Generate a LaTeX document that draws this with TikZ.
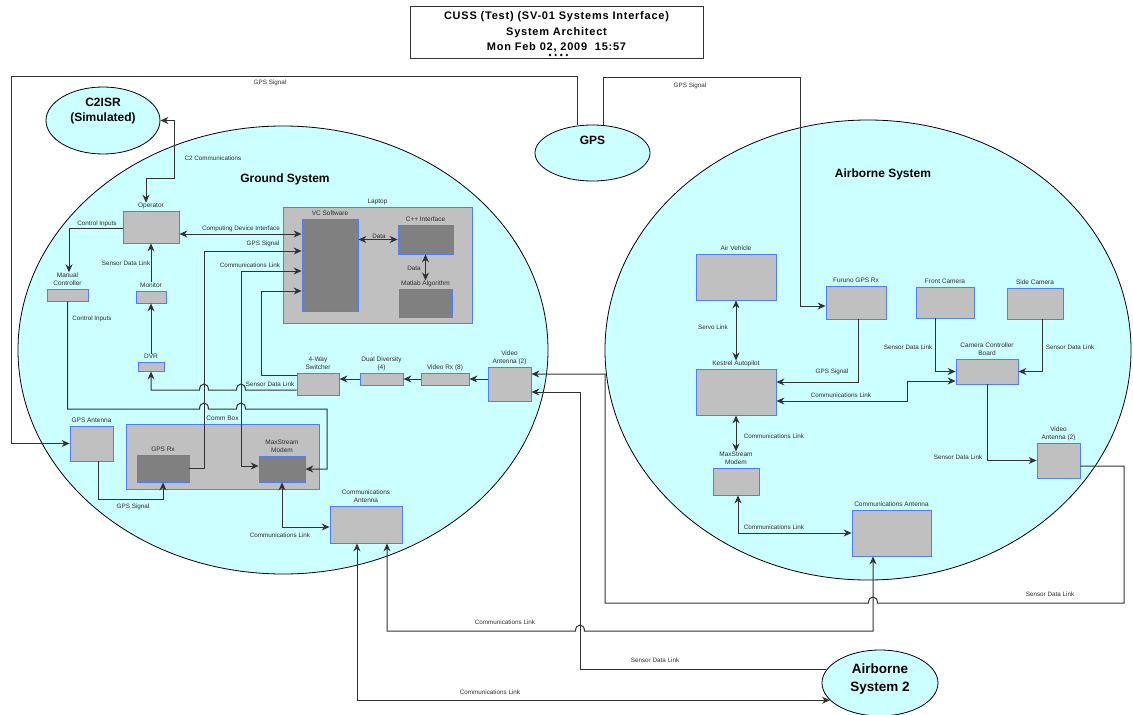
\documentclass[tikz,border=0pt]{standalone}
\usepackage{fontspec}
\setmainfont{Liberation Sans}
\newfontfamily\titlefont[LetterSpace=7]{Liberation Sans}
\usetikzlibrary{arrows.meta,positioning,shapes.geometric}
\definecolor{boxblue}{RGB}{80,125,250}
\definecolor{boxgray}{RGB}{192,192,192}
\definecolor{boxdark}{RGB}{128,128,128}
\definecolor{cyanfill}{RGB}{204,255,255}
\definecolor{linec}{RGB}{50,50,50}
\definecolor{textc}{RGB}{45,45,45}
\begin{document}
\begin{tikzpicture}[x=1pt,y=-1pt,
  gbox/.style={draw=boxblue, fill=boxgray, line width=0.8pt, inner sep=0pt, rectangle},
  dbox/.style={gbox, fill=boxdark},
  ell/.style={draw=black, fill=cyanfill, line width=0.8pt, ellipse, inner sep=0pt},
  lab/.style={font=\fontsize{6.5}{8.2}\selectfont, text=textc, inner sep=0.5pt, text depth=1.5pt, align=center},
  elab/.style={font=\fontsize{6.3}{8}\selectfont, text=textc, inner sep=0.5pt},
  big/.style={font=\fontsize{12}{15}\selectfont\bfseries, text=black, align=center, inner sep=0pt},
  conn/.style={draw=linec, line width=1pt},
  arr/.style={conn, -{Stealth[length=8pt,width=7pt,inset=2.6pt]}},
  darr/.style={conn, {Stealth[length=8pt,width=7pt,inset=2.6pt]}-{Stealth[length=8pt,width=7pt,inset=2.6pt]}},
]
\useasboundingbox (0,0) rectangle (1133,715);

% title
\node[draw=black!80, line width=0.8pt, minimum width=293pt, minimum height=52pt, inner sep=0pt, align=center,
  font=\titlefont\bfseries\fontsize{11}{15.5}\selectfont] (title) at (556.5,32)
  {CUSS (Test) (SV-01 Systems Interface)\\System Architect\\Mon Feb 02, 2009\ \ 15:57};
\foreach \i in {0,1,2,3} \fill[black] (550+5.6*\i,55) circle[radius=1.3pt];

% system ellipses
\node[ell, minimum width=530pt, minimum height=448pt] (ground) at (283,350) {};
\node[ell, minimum width=526pt, minimum height=460pt] (air) at (868,350) {};
\node[big] (gsT) at (285,179) {Ground System};
\node[big] (asT) at (883,174) {Airborne System};

% containers
\node[gbox, minimum width=189pt, minimum height=116pt] (laptop) at (377.5,265) {};
\node[lab, above=0.5pt of laptop] (laptopL) {Laptop};
\node[gbox, minimum width=193pt, minimum height=65pt] (cbox) at (222.5,456.5) {};
\node[lab, above=0.5pt of cbox] (cboxL) {Comm Box};

% ground boxes
\node[gbox, minimum width=56pt, minimum height=32pt] (op) at (151,227) {};
\node[lab, above=0.5pt of op] (opL) {Operator};
\node[gbox, minimum width=41pt, minimum height=12pt] (mc) at (67.5,295) {};
\node[lab, above=0.5pt of mc] (mcL) {Manual\\Controller};
\node[gbox, minimum width=30pt, minimum height=12pt] (mon) at (151,297) {};
\node[lab, above=0.5pt of mon] (monL) {Monitor};
\node[gbox, minimum width=26pt, minimum height=9pt] (dvr) at (151,366.5) {};
\node[lab, above=0.5pt of dvr] (dvrL) {DVR};
\node[dbox, minimum width=56pt, minimum height=92pt] (vc) at (330,265) {};
\node[lab, above=0.5pt of vc] (vcL) {VC Software};
\node[dbox, minimum width=55pt, minimum height=29pt] (cpp) at (425.5,239.5) {};
\node[lab, above=0.5pt of cpp] (cppL) {C++ Interface};
\node[dbox, minimum width=53pt, minimum height=28pt] (mat) at (425.5,303) {};
\node[lab, above=0.5pt of mat] (matL) {Matlab Algorithm};
\node[gbox, minimum width=42pt, minimum height=22pt] (sw4) at (318,384) {};
\node[lab, above=0.5pt of sw4] (sw4L) {4-Way\\Switcher};
\node[gbox, minimum width=43pt, minimum height=12pt] (dd) at (381.5,379) {};
\node[lab, above=0.5pt of dd] (ddL) {Dual Diversity\\(4)};
\node[gbox, minimum width=48pt, minimum height=12pt] (vrx) at (445,379) {};
\node[lab, above=0.5pt of vrx] (vrxL) {Video Rx (8)};
\node[gbox, minimum width=43pt, minimum height=34pt] (van) at (509.5,384) {};
\node[lab, above=0.5pt of van] (vanL) {Video\\Antenna (2)};
\node[gbox, minimum width=43pt, minimum height=35pt] (gant) at (91.5,443.5) {};
\node[lab, above=0.5pt of gant] (gantL) {GPS Antenna};
\node[dbox, minimum width=52pt, minimum height=27pt] (gpsrx) at (163,468.5) {};
\node[lab, above=0.5pt of gpsrx] (gpsrxL) {GPS Rx};
\node[dbox, minimum width=46pt, minimum height=26pt] (mod) at (282,469) {};
\node[lab, above=0.5pt of mod] (modL) {MaxStream\\Modem};
\node[gbox, minimum width=72pt, minimum height=37pt] (cant) at (366,524.5) {};
\node[lab, above=0.5pt of cant] (cantL) {Communications\\Antenna};

% airborne boxes
\node[gbox, minimum width=80pt, minimum height=46pt] (av) at (736,277) {};
\node[lab, above=0.5pt of av] (avL) {Air Vehicle};
\node[gbox, minimum width=60pt, minimum height=33pt] (fur) at (856,302.5) {};
\node[lab, above=0.5pt of fur] (furL) {Furuno GPS Rx};
\node[gbox, minimum width=58pt, minimum height=31pt] (fcam) at (945,302.5) {};
\node[lab, above=0.5pt of fcam] (fcamL) {Front Camera};
\node[gbox, minimum width=56pt, minimum height=31pt] (scam) at (1035,303.5) {};
\node[lab, above=0.5pt of scam] (scamL) {Side Camera};
\node[gbox, minimum width=80pt, minimum height=46pt] (kes) at (736,392) {};
\node[lab, above=0.5pt of kes] (kesL) {Kestrel Autopilot};
\node[gbox, minimum width=62pt, minimum height=25pt] (ccb) at (987,371.5) {};
\node[lab, above=0.5pt of ccb] (ccbL) {Camera Controller\\Board};
\node[gbox, minimum width=46pt, minimum height=27pt] (amod) at (736,481.5) {};
\node[lab, above=0.5pt of amod] (amodL) {MaxStream\\Modem};
\node[gbox, minimum width=43pt, minimum height=35pt] (avan) at (1058.5,460.5) {};
\node[lab, above=0.5pt of avan] (avanL) {Video\\Antenna (2)};
\node[gbox, minimum width=79pt, minimum height=46pt] (acant) at (891.5,533) {};
\node[lab, above=0.5pt of acant] (acantL) {Communications Antenna};

% external ellipses
\node[ell, minimum width=114pt, minimum height=67pt] (c2) at (103,120.5) {};
\node[big] (c2T) at (103,111) {C2ISR\\(Simulated)};
\node[ell, minimum width=115pt, minimum height=56pt] (gps) at (592.5,153) {};
\node[big] (gpsT) at (592.5,140) {GPS};
\node[ell, minimum width=116pt, minimum height=66pt] (as2) at (880,683) {};
\node[big, font=\fontsize{13.5}{18}\selectfont\bfseries] (as2T) at (880,679) {Airborne\\System 2};

% ---------- connectors ----------
\coordinate (k1) at (11,76);
\draw[arr] ([xshift=-15.5pt]gps.north) |- (k1) |- (gant.west);
\coordinate (k2) at (800,77);
\draw[arr] ([xshift=10.5pt]gps.north) |- (k2) |- ([yshift=-3.5pt]fur.west);

\coordinate (k3) at (174,178);
\draw[darr] (c2.east) -| (k3) -| ([xshift=-5pt]opL.north);

\coordinate (cdi) at ([yshift=-7pt]op.east);
\draw[darr] (cdi) -- (cdi -| vc.west);

\draw[arr] ([yshift=-1pt]op.west) -| ([xshift=1.5pt]mcL.north);
\draw[arr] (monL.north) -- (op.south);
\draw[arr] (dvrL.north) -- (mon.south);

\draw[arr] ([yshift=-6pt]sw4.west) -- (245.5,390) .. controls (245.5,382) and (236.5,382) .. (236.5,390)
  -- (208.5,390) .. controls (208.5,382) and (199.5,382) .. (199.5,390) -| (dvr.south);

\coordinate (k4) at (261,291);
\draw[arr] ([yshift=9pt]sw4.west) -| (k4) -- (k4 -| vc.west);
\coordinate (k5) at (204,251);
\draw[arr] (gpsrx.east) -| (k5) -- (k5 -| vc.west);
\coordinate (k6) at (241,271);
\draw[darr] ([yshift=3pt]mod.west) -| (k6) -- (k6 -| vc.west);

\draw[arr] (mc.south) |- (199.5,409) .. controls (199.5,401) and (208.5,401) .. (208.5,409)
  -- (236.5,409) .. controls (236.5,401) and (245.5,401) .. (245.5,409) -| (327,469) -- (mod.east);

\coordinate (k7) at (163,499);
\draw[arr] ([xshift=6.5pt]gant.south) |- (k7) -- (gpsrx.south);
\draw[darr] (mod.south) |- ([yshift=-2.5pt]cant.west);

\draw[darr] (cpp.west -| vc.east) -- (cpp.west);
\draw[darr] (cpp.south) -- (matL.north);

\draw[arr] (van.west |- vrx.east) -- (vrx.east);
\draw[arr] (vrx.west) -- (dd.east);
\draw[arr] (dd.west) -- (dd.west -| sw4.east);

\coordinate (k8) at (1124,603);
\coordinate (k9) at (605,374);
\draw[arr] ([yshift=-5.5pt]avan.east) -| (k8) -- (877.5,603) .. controls (877.5,595) and (868.5,595) .. (868.5,603)
  -| (k9) -- (k9 -| van.east);

\coordinate (k10) at (580,392);
\draw[arr] (as2.166) -| (k10) -- (k10 -| van.east);

\draw[darr] ([xshift=21pt]cant.south) |- (575.5,631) .. controls (575.5,623) and (584.5,623) .. (584.5,631)
  -| ([xshift=-18.5pt]acant.south);
\draw[darr] ([xshift=-9pt]cant.south) |- (as2.199);

\draw[darr] (av.south) -- (kesL.north);
\draw[darr] (kes.south) -- (amodL.north);
\draw[arr] ([xshift=2pt]fur.south) |- ([yshift=10pt]kes.east);
\coordinate (k11) at (907,381);
\draw[darr] ([yshift=-9pt]kes.east) -| (k11) -- (k11 -| ccb.west);
\draw[arr] ([xshift=-10pt]fcam.south) |- (ccb.west);
\draw[arr] ([xshift=7pt]scam.south) |- (ccb.east);
\draw[arr] (ccb.south) |- (avan.west);
\draw[darr] ([xshift=2pt]amod.south) |- (acant.west);

% ---------- connector labels ----------
\node[elab] (t1) at (270,83) {GPS Signal};
\node[elab] (t2) at (690,86) {GPS Signal};
\node[elab] (t3) at (213,158) {C2 Communications};
\node[elab] (t4) at (241,229) {Computing Device Interface};
\node[elab] (t5) at (263,244) {GPS Signal};
\node[elab] (t6) at (250,265) {Communications Link};
\node[elab] (t7) at (97,224) {Control Inputs};
\node[elab] (t8) at (126,263) {Sensor Data Link};
\node[elab] (t9) at (92,319) {Control Inputs};
\node[elab] (t10) at (270,384) {Sensor Data Link};
\node[elab] (t11) at (133,507) {GPS Signal};
\node[elab] (t12) at (280,535) {Communications Link};
\node[elab] (t13) at (379,236) {Data};
\node[elab] (t14) at (414,268) {Data};
\node[elab] (t15) at (713,327) {Servo Link};
\node[elab] (t16) at (774,436) {Communications Link};
\node[elab] (t17) at (832,372) {GPS Signal};
\node[elab] (t18) at (841,395) {Communications Link};
\node[elab] (t19) at (908,347) {Sensor Data Link};
\node[elab] (t20) at (1070,347) {Sensor Data Link};
\node[elab] (t21) at (958,457) {Sensor Data Link};
\node[elab] (t22) at (774,527) {Communications Link};
\node[elab] (t23) at (1050,594) {Sensor Data Link};
\node[elab] (t24) at (505,622) {Communications Link};
\node[elab] (t25) at (655,660) {Sensor Data Link};
\node[elab] (t26) at (490,692) {Communications Link};
\end{tikzpicture}
\end{document}
